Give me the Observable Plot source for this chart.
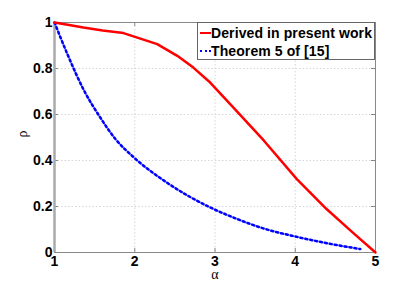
<!DOCTYPE html>
<html>
<head>
<meta charset="utf-8">
<script src="https://cdn.jsdelivr.net/npm/d3@7"></script>
<script src="https://cdn.jsdelivr.net/npm/@observablehq/plot@0.6"></script>
<style>
  html, body { margin: 0; padding: 0; background: #fff; }
  #wrap { position: relative; width: 415px; height: 283px; }
  #legend { position: absolute; left: 197px; top: 22px; width: 178px; height: 38px;
    border: 1px solid #666; background: #fff; box-sizing: border-box;
    font: bold 14px "Liberation Sans", Arial, sans-serif; color: #000; letter-spacing: 0.1px; }
  .row { position: absolute; left: 0; height: 16px; line-height: 16px; white-space: nowrap; }
  .sw { display: inline-block; vertical-align: middle; width: 11px; margin-left: 2px; margin-right: 0px; }
</style>
</head>
<body>
<div id="wrap">
  <div id="chart"></div>
  <div id="legend">
    <div class="row" style="top:2px"><span class="sw" style="border-top:2.5px solid #ff0000;margin-top:-2px"></span><span>Derived in present work</span></div>
    <div class="row" style="top:20px"><span class="sw" style="border-top:2px dotted #0000ff;margin-top:-2px"></span><span>Theorem 5 of [15]</span></div>
  </div>
</div>
<script>
const derivedAlpha = [1, 1.2, 1.36, 1.6, 1.86, 2.28, 2.53, 2.73, 2.94, 3.23, 3.61, 4.02, 4.39, 4.7, 5];
const derivedRho   = [1, 0.988, 0.978, 0.965, 0.954, 0.906, 0.855, 0.804, 0.739, 0.63, 0.486, 0.319, 0.189, 0.092, 0];
const theoremAlpha = [1, 1.16, 1.37, 1.57, 1.76, 1.99, 2.4, 2.94, 3.23, 3.6, 4.02, 4.4, 4.81];
const theoremRho   = [1, 0.863, 0.703, 0.587, 0.493, 0.413, 0.304, 0.196, 0.152, 0.105, 0.068, 0.04, 0.015];
const xTicks = [1, 2, 3, 4, 5];
const yTicks = [0, 0.2, 0.4, 0.6, 0.8, 1];
const xGrid = [2, 3, 4];
const yGrid = [0.2, 0.4, 0.6, 0.8];

const derived = derivedAlpha.map((a, i) => ({a, r: derivedRho[i]}));
const theorem = theoremAlpha.map((a, i) => ({a, r: theoremRho[i]}));

const W = 415, H = 283, mL = 54, mR = 40, mT = 22, mB = 31;
const ph = H - mT - mB, pw = W - mL - mR;
const font = '"Liberation Sans", Arial, sans-serif';

const chart = Plot.plot({
  width: W, height: H,
  marginLeft: mL, marginRight: mR, marginTop: mT, marginBottom: mB,
  style: {fontFamily: font, background: "#fff"},
  x: {domain: [1, 5], label: null},
  y: {domain: [0, 1], label: null},
  marks: [
    Plot.ruleX(xGrid, {stroke: "#ccc", strokeDasharray: "1.5,2", strokeWidth: 0.8}),
    Plot.ruleY(yGrid, {stroke: "#ccc", strokeDasharray: "1.5,2", strokeWidth: 0.8}),
    Plot.tickX(xTicks, {stroke: "#888", insetTop: ph - 4}),
    Plot.tickX(xTicks, {stroke: "#888", insetBottom: ph - 4}),
    Plot.tickY(yTicks, {stroke: "#888", insetRight: pw - 4}),
    Plot.tickY(yTicks, {stroke: "#888", insetLeft: pw - 4}),
    Plot.frame({stroke: "#888", strokeWidth: 1}),
    Plot.ruleX([1], {stroke: "#aaa", strokeWidth: 2.5}),
    Plot.ruleY([0], {stroke: "#888", strokeWidth: 1.2}),
    Plot.line(theorem, {x: "a", y: "r", stroke: "#b4bcff", strokeWidth: 2, curve: "monotone-x"}),
    Plot.line(theorem, {x: "a", y: "r", stroke: "#0000ff", strokeWidth: 2.5, strokeDasharray: "2,3", curve: "monotone-x"}),
    Plot.line(derived, {x: "a", y: "r", stroke: "#ff0000", strokeWidth: 2.5}),
    Plot.axisX(xTicks, {tickSize: 0, tickPadding: 4, fontSize: 14, fontWeight: "bold", fill: "#000", label: null}),
    Plot.axisY(yTicks, {tickSize: 0, tickPadding: 2, fontSize: 14, fontWeight: "bold", fill: "#000", label: null,
      tickFormat: d => d === 0 ? "0" : d === 1 ? "1" : String(d)}),
    Plot.text(["α"], {frameAnchor: "bottom", dy: 26, fontSize: 14, fontFamily: "Liberation Serif, serif", fill: "#000"}),
    Plot.text(["ρ"], {frameAnchor: "left", dx: -32, rotate: -90, fontSize: 14, fontFamily: "Liberation Serif, serif", fill: "#000"})
  ]
});
document.getElementById("chart").appendChild(chart);
</script>
</body>
</html>
